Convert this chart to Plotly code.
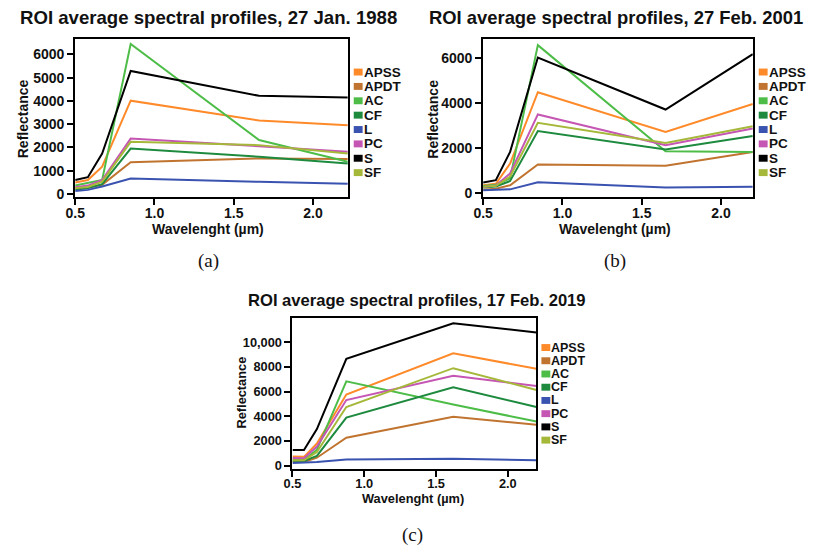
import plotly.graph_objects as go

W, H = 817, 552

# Land-cover classes and their line colours
classes = ["APSS", "APDT", "AC", "CF", "L", "PC", "S", "SF"]
class_colors = ["#ff8a2a", "#c07430", "#4dbd48", "#1d8a3e", "#3a53b0", "#c556b3", "#000000", "#a6b83a"]

# Band centre wavelengths (µm) of each acquisition
wl_1988 = [0.5, 0.58, 0.67, 0.85, 1.66, 2.22]
wl_2001 = [0.5, 0.58, 0.67, 0.845, 1.65, 2.2]
wl_2019 = [0.5, 0.58, 0.67, 0.875, 1.62, 2.2]

# ROI mean reflectance per class, 27 Jan. 1988
refl_1988 = {
    "APSS": [490, 600, 1170, 4010, 3160, 2950],
    "APDT": [250, 270, 390, 1360, 1530, 1500],
    "AC":   [360, 460, 600, 6450, 2320, 1380],
    "CF":   [175, 250, 420, 1950, 1600, 1310],
    "L":    [130, 175, 320, 660, 520, 440],
    "PC":   [290, 360, 600, 2380, 2050, 1810],
    "S":    [600, 720, 1740, 5290, 4220, 4150],
    "SF":   [250, 300, 530, 2240, 2100, 1740],
}

# ROI mean reflectance per class, 27 Feb. 2001
refl_2001 = {
    "APSS": [330, 400, 1300, 4480, 2710, 3960],
    "APDT": [130, 180, 330, 1260, 1200, 1820],
    "AC":   [300, 360, 640, 6580, 1850, 1820],
    "CF":   [230, 280, 520, 2750, 1930, 2530],
    "L":    [110, 130, 150, 470, 230, 270],
    "PC":   [250, 320, 860, 3490, 2120, 2860],
    "S":    [450, 560, 1820, 6030, 3710, 6180],
    "SF":   [260, 310, 720, 3120, 2220, 2960],
}

# ROI mean reflectance per class, 17 Feb. 2019
refl_2019 = {
    "APSS": [740, 720, 1800, 5760, 9090, 7840],
    "APDT": [300, 310, 650, 2270, 3970, 3310],
    "AC":   [480, 470, 1300, 6830, 4960, 3570],
    "CF":   [400, 390, 800, 3890, 6350, 4750],
    "L":    [220, 230, 300, 500, 560, 450],
    "PC":   [620, 600, 1550, 5310, 7280, 6450],
    "S":    [1280, 1280, 2960, 8650, 11520, 10780],
    "SF":   [450, 440, 1100, 4750, 7890, 6130],
}

x_tickvals = [0.5, 1.0, 1.5, 2.0]
x_ticktext = ["0.5", "1.0", "1.5", "2.0"]
y_ticks_1988 = [0, 1000, 2000, 3000, 4000, 5000, 6000]
y_ticks_2001 = [0, 2000, 4000, 6000]
y_ticks_2019 = [0, 2000, 4000, 6000, 8000, 10000]
y_ticktext_2019 = ["0", "2000", "4000", "6000", "8000", "10,000"]

titles = [
    "ROI average spectral profiles, 27 Jan. 1988",
    "ROI average spectral profiles, 27 Feb. 2001",
    "ROI average spectral profiles, 17 Feb. 2019",
]
panel_tags = ["(a)", "(b)", "(c)"]

SANS = "Liberation Sans, Arial, sans-serif"
SERIF = "Liberation Serif, DejaVu Serif, serif"


def fx(px):
    return px / W


def fy(py):
    return 1 - py / H


# Panel geometry in pixels: plot box, title, axis titles, legend, tag
panels = [
    dict(wl=wl_1988, data=refl_1988, box=(66, 342, 39, 199), xr=[0.5, 2.22], yr=[-140, 6680],
         yt=y_ticks_1988, ytt=[str(v) for v in y_ticks_1988],
         title=(201, 18, 18.6), xt=(200, 231), ytitle=(13.5, 120), leg=(348, 72.7, 14.5),
         tag=(201, 263), fs=14, lfs=13.5),
    dict(wl=wl_2001, data=refl_2001, box=(479, 752, 39, 199), xr=[0.5, 2.2], yr=[-200, 6870],
         yt=y_ticks_2001, ytt=[str(v) for v in y_ticks_2001],
         title=(614, 18, 18.4), xt=(612, 231), ytitle=(428, 120), leg=(758, 72.7, 14.5),
         tag=(612, 263), fs=14, lfs=13.5),
    dict(wl=wl_2019, data=refl_2019, box=(286, 533, 321, 473), xr=[0.5, 2.2], yr=[-240, 11940],
         yt=y_ticks_2019, ytt=y_ticktext_2019,
         title=(412, 303, 16.6), xt=(408, 503), ytitle=(234, 396), leg=(538, 350.7, 13.35),
         tag=(407, 540), fs=12.8, lfs=12.5),
]

fig = go.Figure()
annotations = []
shapes = []
layout_axes = {}

for i, p in enumerate(panels):
    n = "" if i == 0 else str(i + 1)
    xa, ya = "x" + n, "y" + n
    for name, color in zip(classes, class_colors):
        fig.add_trace(go.Scatter(
            x=p["wl"], y=p["data"][name], mode="lines", name=name,
            line=dict(color=color, width=2), xaxis=xa, yaxis=ya, showlegend=False,
        ))
    x0, x1, y0, y1 = p["box"]
    tickfont = dict(family=SANS, size=p["fs"], color="#111", weight="bold")
    layout_axes["xaxis" + n] = dict(
        domain=[fx(x0), fx(x1)], anchor=ya, range=p["xr"],
        tickvals=x_tickvals, ticktext=x_ticktext, ticks="outside", ticklen=6,
        tickwidth=1.5, tickcolor="black", showline=True, linewidth=2, linecolor="black",
        mirror=True, showgrid=False, zeroline=False, tickfont=tickfont,
        ticklabelstandoff=-4,
    )
    layout_axes["yaxis" + n] = dict(
        domain=[fy(y1), fy(y0)], anchor=xa, range=p["yr"],
        tickvals=p["yt"], ticktext=p["ytt"], ticks="outside", ticklen=6,
        tickwidth=1.5, tickcolor="black", showline=True, linewidth=2, linecolor="black",
        mirror=True, showgrid=False, zeroline=False, tickfont=tickfont,
    )

    tx, ty, tfs = p["title"]
    annotations.append(dict(
        text=titles[i], x=fx(tx), y=fy(ty), xref="paper", yref="paper", showarrow=False,
        xanchor="center", yanchor="middle",
        font=dict(family=SANS, size=tfs, color="#111", weight="bold"),
    ))
    annotations.append(dict(
        text="Wavelenght (µm)", x=fx(p["xt"][0]), y=fy(p["xt"][1]), xref="paper", yref="paper",
        showarrow=False, xanchor="center", yanchor="middle", borderpad=0,
        font=dict(family=SANS, size=p["fs"], color="#111", weight="bold"),
    ))
    annotations.append(dict(
        text="Reflectance", x=fx(p["ytitle"][0]), y=fy(p["ytitle"][1]), xref="paper",
        yref="paper", showarrow=False, xanchor="center", yanchor="middle", textangle=-90,
        font=dict(family=SANS, size=p["fs"], color="#111", weight="bold"),
    ))
    annotations.append(dict(
        text=panel_tags[i], x=fx(p["tag"][0]), y=fy(p["tag"][1]), xref="paper", yref="paper",
        showarrow=False, xanchor="center", yanchor="middle",
        font=dict(family=SERIF, size=19, color="#111"),
    ))

    # Legend: coloured square swatch followed by the class name
    lx, ly, lstep = p["leg"]
    for k, (name, color) in enumerate(zip(classes, class_colors)):
        yc = ly + k * lstep
        shapes.append(dict(
            type="rect", xref="paper", yref="paper",
            x0=fx(lx), x1=fx(lx + 9), y0=fy(yc + 3.5), y1=fy(yc - 3.5),
            fillcolor=color, line=dict(width=0),
        ))
        annotations.append(dict(
            text=name, x=fx(lx + 9), y=fy(yc), xref="paper", yref="paper", showarrow=False,
            xanchor="left", yanchor="middle", borderpad=0,
            font=dict(family=SANS, size=p["lfs"], color="#111", weight="bold"),
        ))

fig.update_layout(
    width=W, height=H, margin=dict(l=0, r=0, t=0, b=0),
    paper_bgcolor="white", plot_bgcolor="white", showlegend=False,
    annotations=annotations, shapes=shapes, **layout_axes,
)

fig.write_html("out.html")
